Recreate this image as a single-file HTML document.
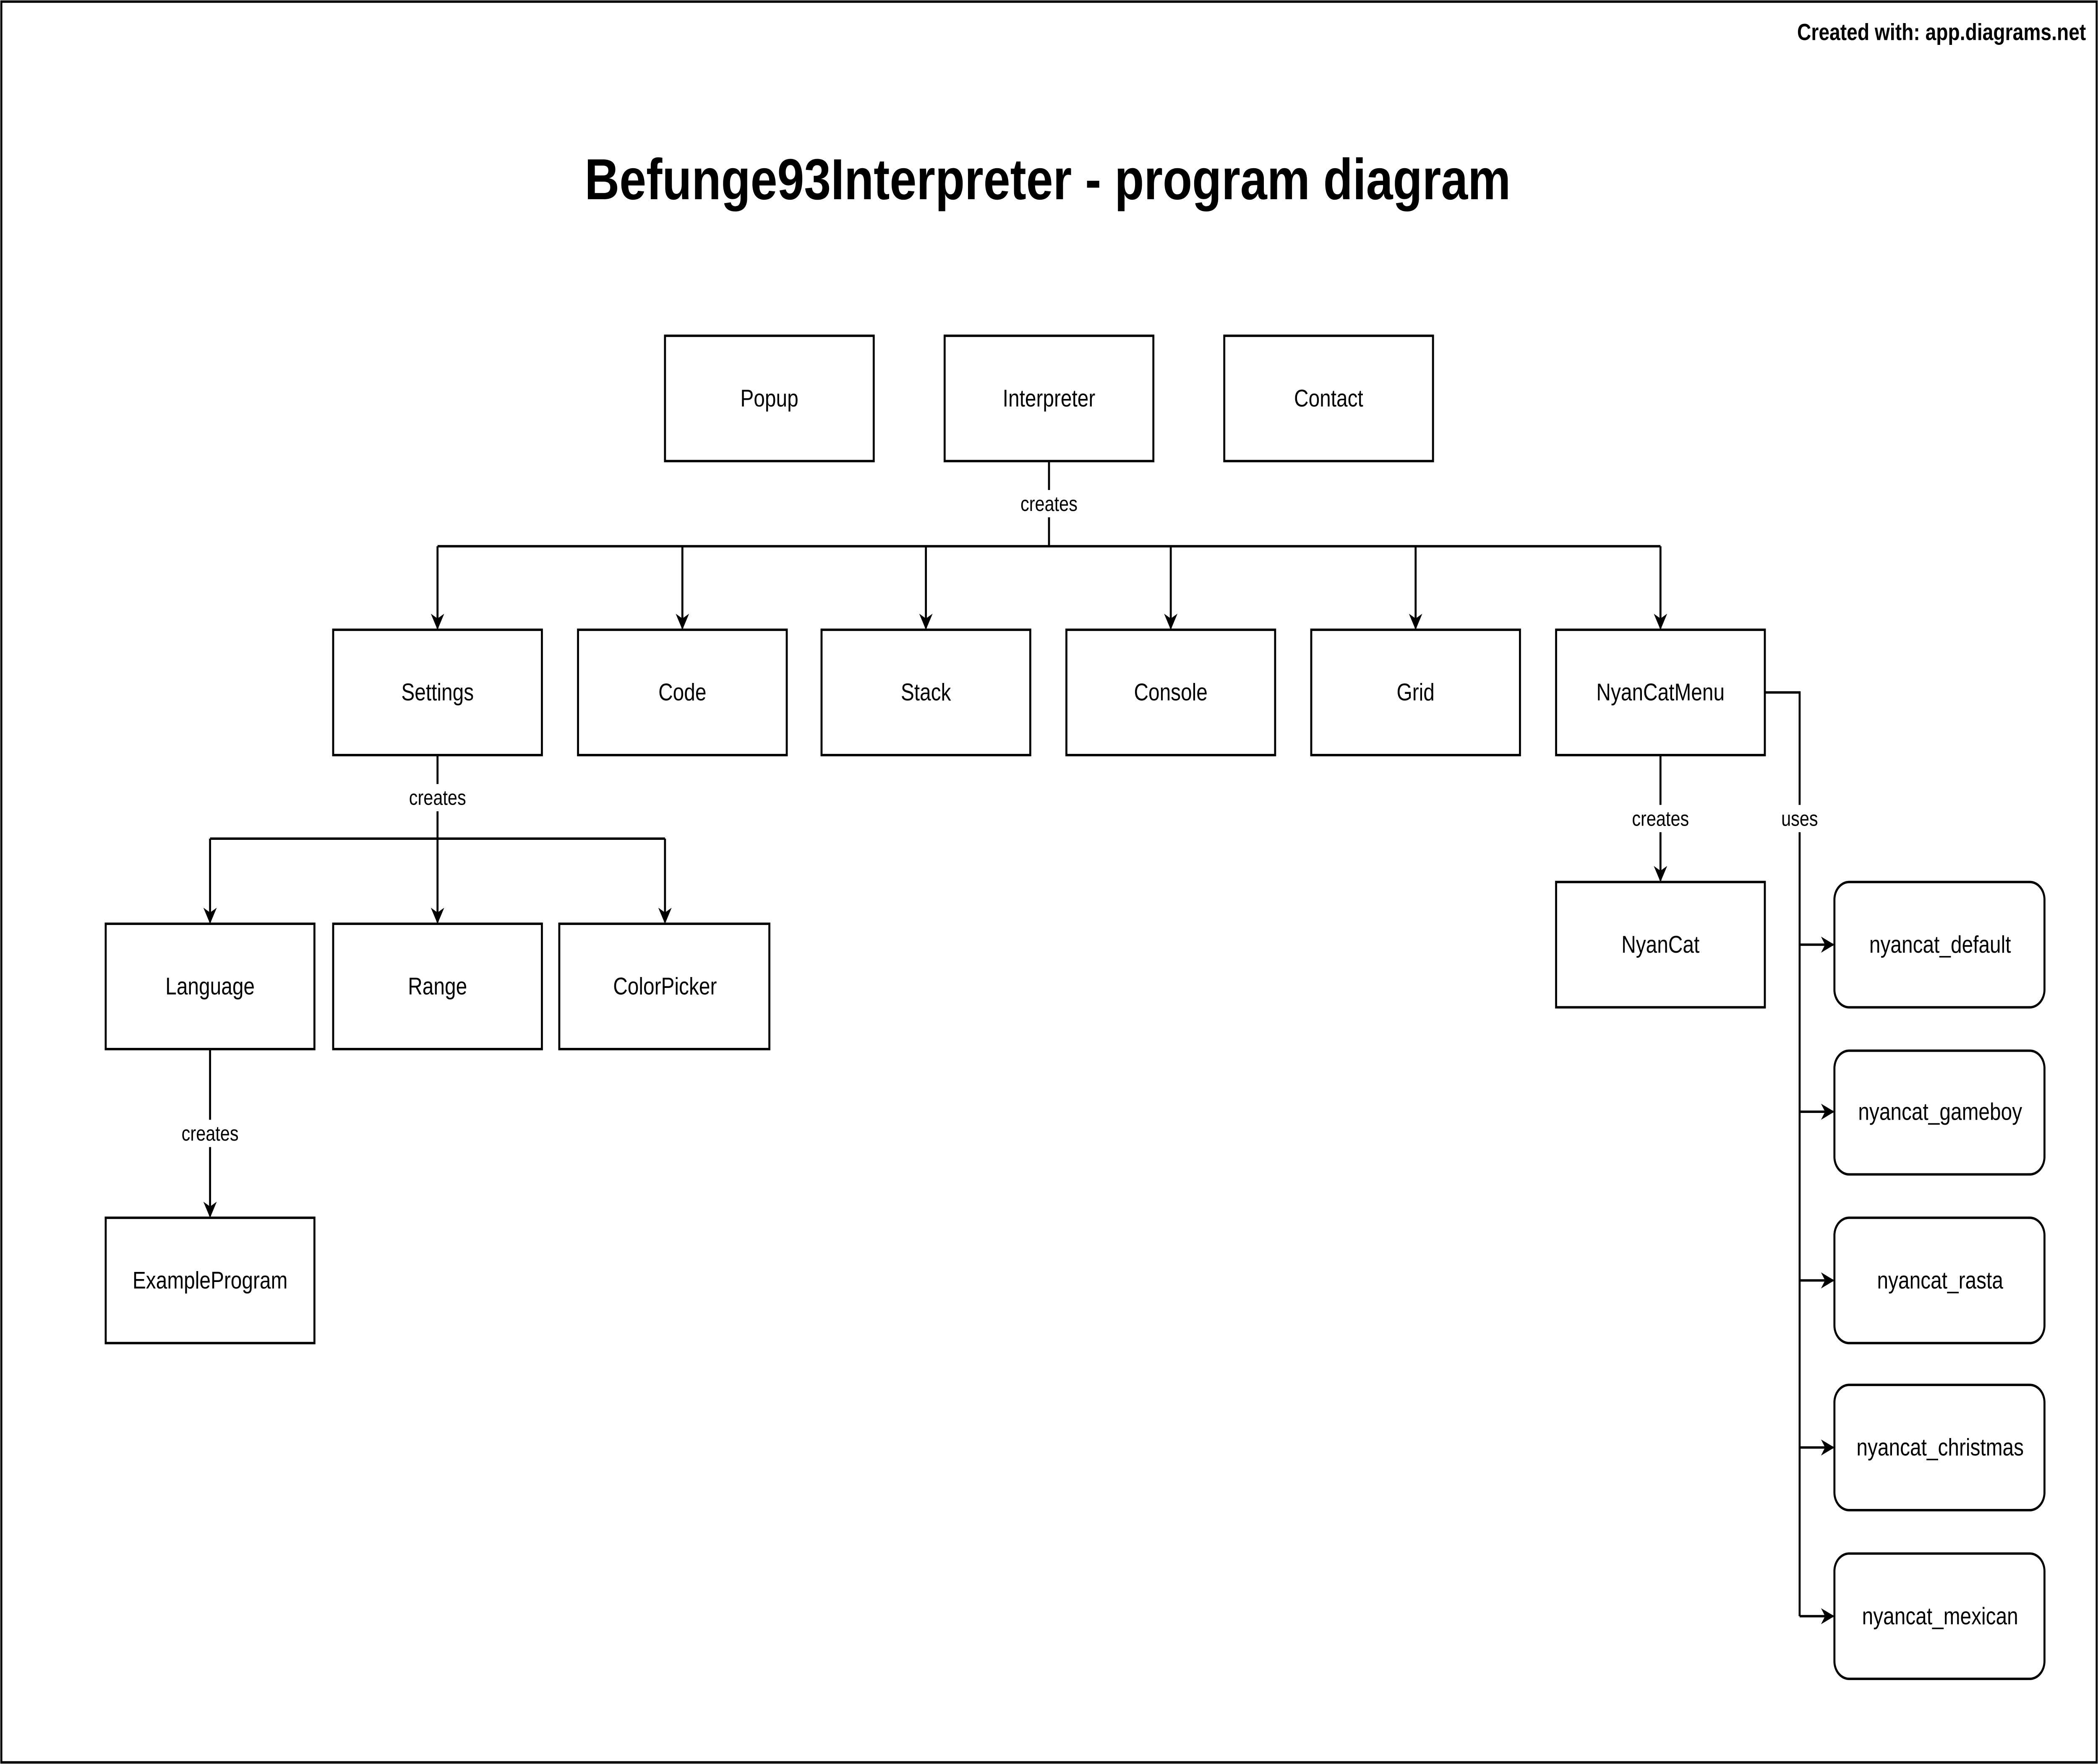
<!DOCTYPE html>
<html><head><meta charset="utf-8"><style>
html,body{margin:0;padding:0;background:#fff;width:100%;height:100%;overflow:hidden;}
svg{display:block;width:100vw;height:100vh;}
text{font-family:"Liberation Sans",Arial,sans-serif;}
</style></head><body>
<svg viewBox="0 0 1568 1098" preserveAspectRatio="none" xmlns="http://www.w3.org/2000/svg">
<defs><marker id="a" markerWidth="10" markerHeight="10" refX="9" refY="5" orient="auto" markerUnits="userSpaceOnUse"><path d="M0,0 L10,5 L0,10 L3,5 Z" fill="#000"/></marker></defs>
<rect x="0" y="0" width="1568" height="1098" fill="#fff"/>
<rect x="1" y="1" width="1566" height="1096" fill="none" stroke="#000" stroke-width="1.5"/>
<text x="1559" y="25" text-anchor="end" font-size="14.5" font-weight="bold">Created with: app.diagrams.net</text>
<text x="783" y="124" text-anchor="middle" font-size="36" font-weight="bold">Befunge93Interpreter - program diagram</text>
<g fill="none" stroke="#000" stroke-width="1.5">
<path d="M784,287 V340 M327,340 H1241"/>
<path d="M327,340 V391" marker-end="url(#a)"/>
<path d="M510,340 V391" marker-end="url(#a)"/>
<path d="M692,340 V391" marker-end="url(#a)"/>
<path d="M875,340 V391" marker-end="url(#a)"/>
<path d="M1058,340 V391" marker-end="url(#a)"/>
<path d="M1241,340 V391" marker-end="url(#a)"/>
<path d="M327,470 V522 M157,522 H497"/>
<path d="M157,522 V574" marker-end="url(#a)"/>
<path d="M327,522 V574" marker-end="url(#a)"/>
<path d="M497,522 V574" marker-end="url(#a)"/>
<path d="M157,653 V757" marker-end="url(#a)"/>
<path d="M1241,470 V548" marker-end="url(#a)"/>
<path d="M1319,431 H1345 V1006"/>
<path d="M1345,588 H1370" marker-end="url(#a)"/>
<path d="M1345,692 H1370" marker-end="url(#a)"/>
<path d="M1345,797 H1370" marker-end="url(#a)"/>
<path d="M1345,901 H1370" marker-end="url(#a)"/>
<path d="M1345,1006 H1370" marker-end="url(#a)"/>
</g>
<g fill="#fff" stroke="#000" stroke-width="1.5">
<rect x="497" y="209" width="156" height="78"/>
<rect x="706" y="209" width="156" height="78"/>
<rect x="915" y="209" width="156" height="78"/>
<rect x="249" y="392" width="156" height="78"/>
<rect x="432" y="392" width="156" height="78"/>
<rect x="614" y="392" width="156" height="78"/>
<rect x="797" y="392" width="156" height="78"/>
<rect x="980" y="392" width="156" height="78"/>
<rect x="1163" y="392" width="156" height="78"/>
<rect x="79" y="575" width="156" height="78"/>
<rect x="249" y="575" width="156" height="78"/>
<rect x="418" y="575" width="157" height="78"/>
<rect x="79" y="758" width="156" height="78"/>
<rect x="1163" y="549" width="156" height="78"/>
<rect x="1371" y="549" width="157" height="78" rx="11"/>
<rect x="1371" y="654" width="157" height="77" rx="11"/>
<rect x="1371" y="758" width="157" height="78" rx="11"/>
<rect x="1371" y="862" width="157" height="78" rx="11"/>
<rect x="1371" y="967" width="157" height="78" rx="11"/>
</g>
<g fill="#fff">
<rect x="758" y="305" width="52" height="17"/>
<rect x="301" y="488" width="52" height="17"/>
<rect x="131" y="697" width="52" height="17"/>
<rect x="1215" y="501" width="52" height="17"/>
<rect x="1328" y="501" width="34" height="17"/>
</g>
<g font-size="15" text-anchor="middle">
<text x="575" y="253">Popup</text>
<text x="784" y="253">Interpreter</text>
<text x="993" y="253">Contact</text>
<text x="327" y="436">Settings</text>
<text x="510" y="436">Code</text>
<text x="692" y="436">Stack</text>
<text x="875" y="436">Console</text>
<text x="1058" y="436">Grid</text>
<text x="1241" y="436">NyanCatMenu</text>
<text x="157" y="619">Language</text>
<text x="327" y="619">Range</text>
<text x="497" y="619">ColorPicker</text>
<text x="157" y="802">ExampleProgram</text>
<text x="1241" y="593">NyanCat</text>
<text x="1450" y="593">nyancat_default</text>
<text x="1450" y="697">nyancat_gameboy</text>
<text x="1450" y="802">nyancat_rasta</text>
<text x="1450" y="906">nyancat_christmas</text>
<text x="1450" y="1011">nyancat_mexican</text>
</g>
<g font-size="13" text-anchor="middle">
<text x="784" y="318">creates</text>
<text x="327" y="501">creates</text>
<text x="157" y="710">creates</text>
<text x="1241" y="514">creates</text>
<text x="1345" y="514">uses</text>
</g>
</svg>
</body></html>
